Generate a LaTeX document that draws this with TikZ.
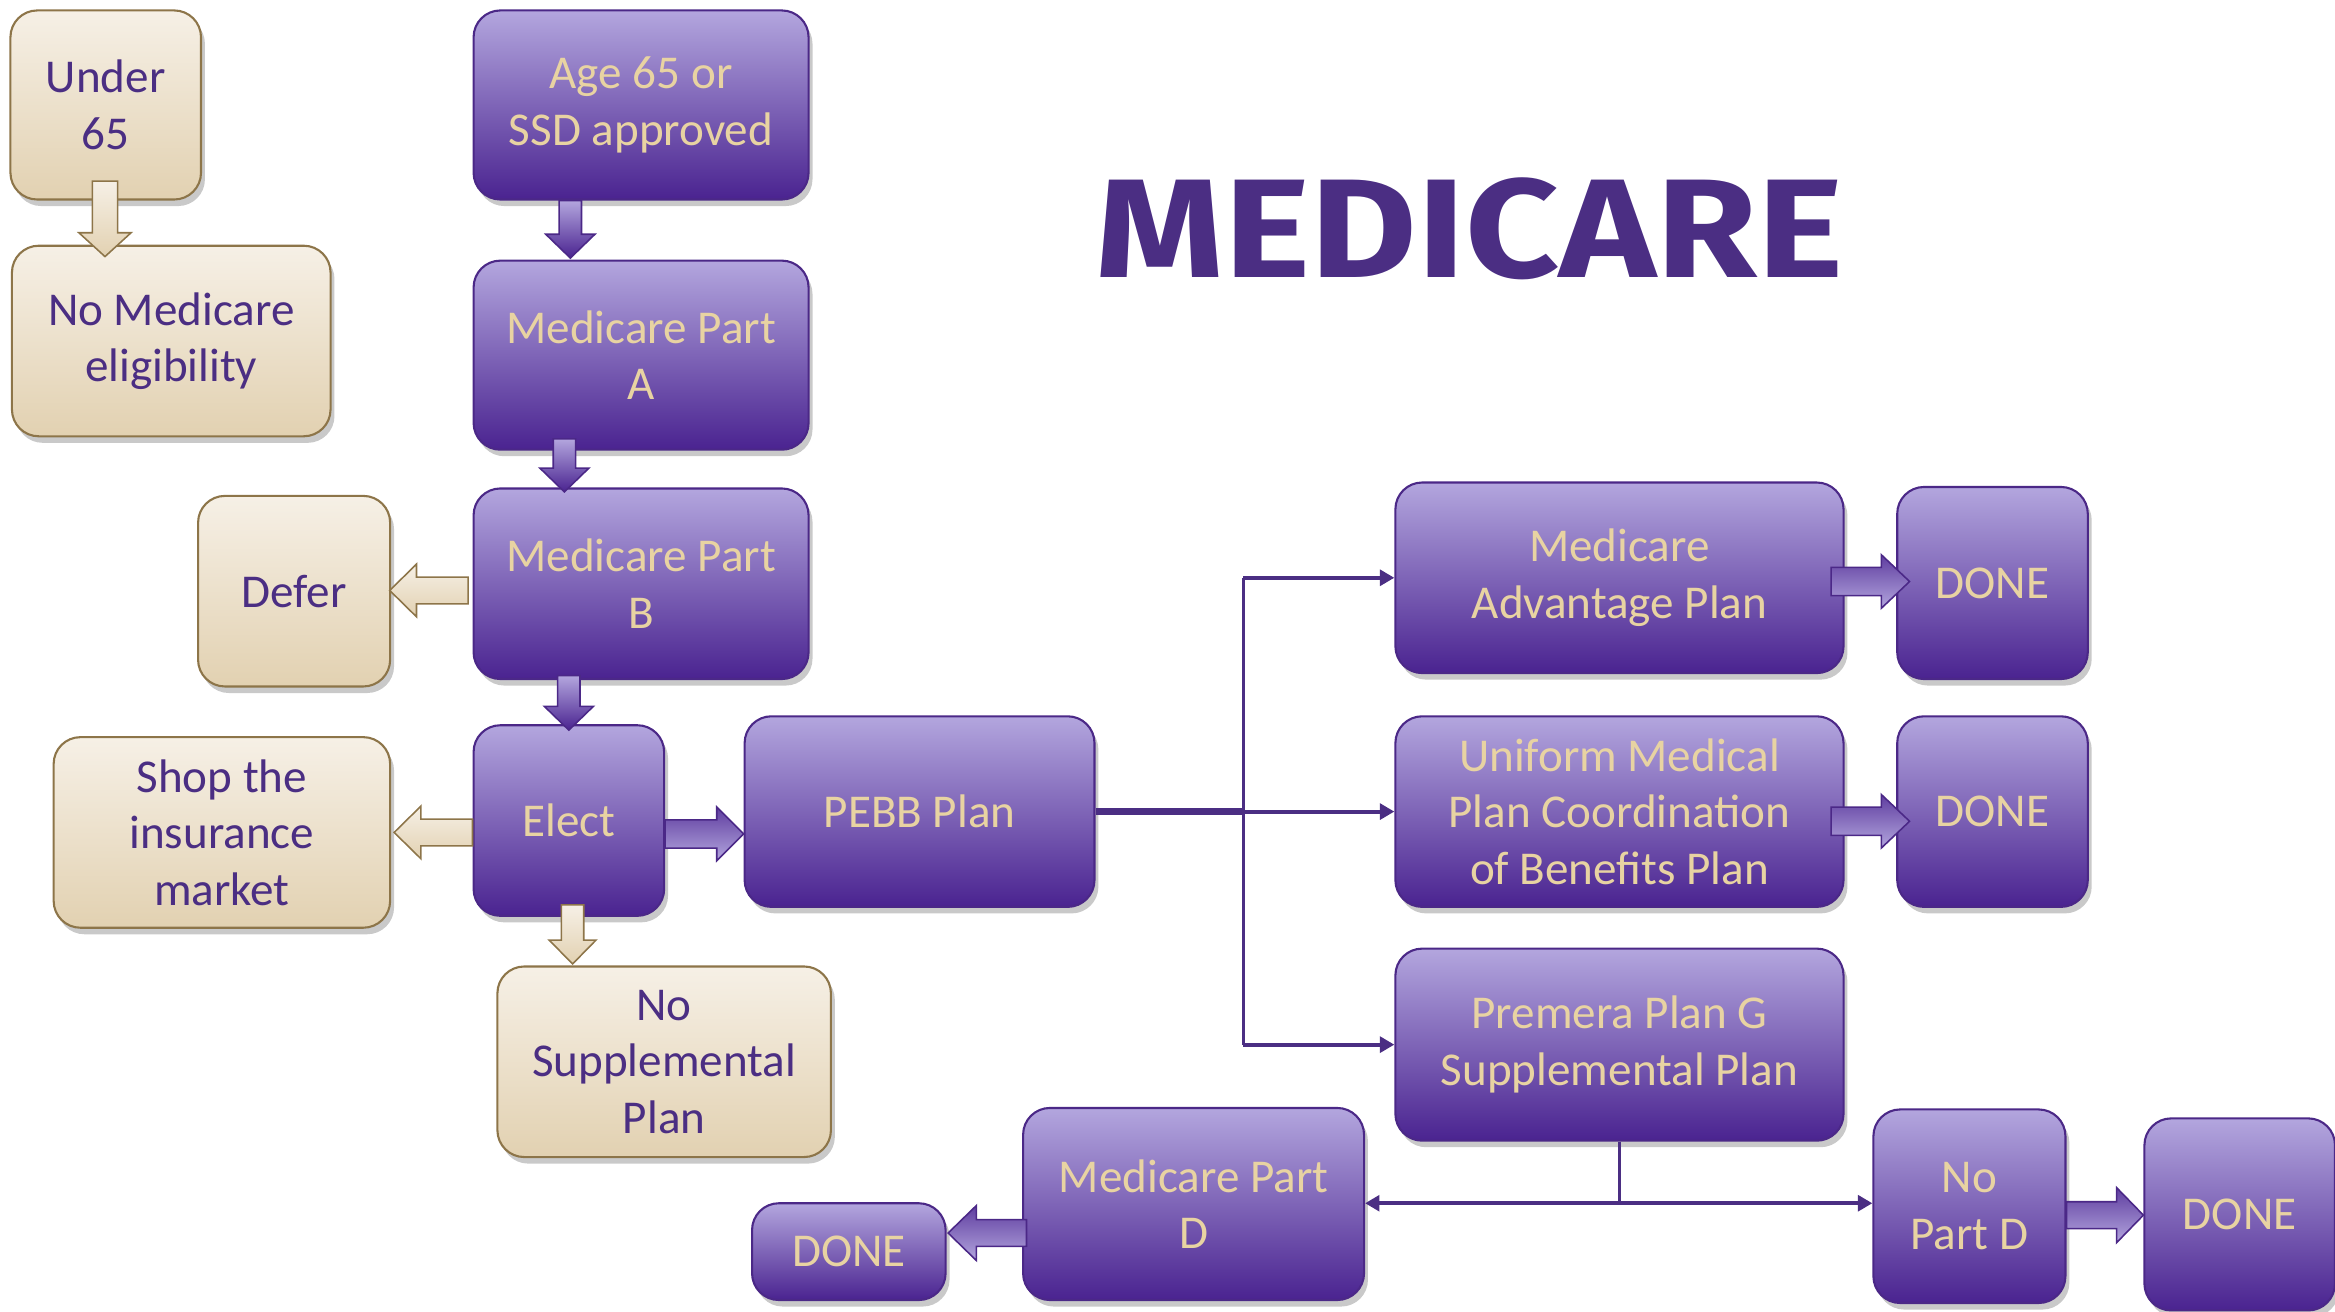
\documentclass[tikz,border=0pt]{standalone}
\usepackage{fontspec}
\usepackage{graphicx}
\setmainfont{Carlito}
\newfontfamily\titlefont{Fira Sans}
\usetikzlibrary{calc,shadows,arrows.meta}
\definecolor{ptop}{RGB}{179,166,222}
\definecolor{pmid}{RGB}{138,121,193}
\definecolor{pbot}{RGB}{74,35,144}
\definecolor{pborder}{RGB}{75,40,135}
\definecolor{uwpurple}{RGB}{75,46,131}
\definecolor{gold}{RGB}{232,211,162}
\definecolor{ttop}{RGB}{246,240,230}
\definecolor{tmid}{RGB}{237,226,206}
\definecolor{tbot}{RGB}{226,209,177}
\definecolor{tborder}{RGB}{141,117,73}
\newcommand\boxfont{\fontsize{18}{21.6}\selectfont}
\newcommand\barrow[6]{%
  \coordinate (hb) at ($(#3)!#6!(#2)$);
  \path[#1] ($(#2)!#4!90:(#3)$) -- ($(hb)!#4!-90:(#2)$) -- ($(hb)!#5!-90:(#2)$) -- (#3) -- ($(hb)!#5!90:(#2)$) -- ($(hb)!#4!90:(#2)$) -- ($(#2)!#4!-90:(#3)$) -- cycle;}
\tikzset{
  basebox/.style={rounded corners=0.36cm, line width=0.8pt, align=center, inner sep=0pt, font=\boxfont,
    drop shadow={shadow xshift=1.5pt, shadow yshift=-2.5pt, opacity=0.3, fill=black!70}},
  pbox/.style={basebox, draw=pborder, top color=ptop, middle color=pmid, bottom color=pbot, text=gold},
  tbox/.style={basebox, draw=tborder, top color=ttop, middle color=tmid, bottom color=tbot, text=uwpurple},
  pvarr/.style={draw=pborder, line width=0.6pt, top color=ptop, bottom color=pbot},
  pharr/.style={draw=pborder, line width=0.6pt, top color=pbot!80!ptop, bottom color=ptop},
  tarr/.style={draw=tborder, line width=0.6pt, top color=ttop, bottom color=tbot},
  conn/.style={draw=uwpurple, line width=1.5pt},
  connarr/.style={conn, -{Triangle[length=5.5pt,width=6pt]}},
}
\begin{document}
\begin{tikzpicture}[x=0.02cm, y=-0.02cm]
\useasboundingbox (0,0) rectangle (1568,881);
\clip (0,0) rectangle (1568,881);
% boxes
\node[tbox, minimum width=2.56cm, minimum height=2.54cm] (under) at (71,70.5) {Under\\65};
\node[tbox, minimum width=4.28cm, minimum height=2.56cm] (nomed) at (115,229) {No Medicare\\eligibility};
\node[pbox, minimum width=4.5cm, minimum height=2.54cm] (age) at (430.5,70.5) {Age 65 or\\SSD approved};
\node[pbox, minimum width=4.5cm, minimum height=2.54cm] (parta) at (430.5,238.5) {Medicare Part\\A};
\node[pbox, minimum width=4.5cm, minimum height=2.56cm] (partb) at (430.5,392) {Medicare Part\\B};
\node[tbox, minimum width=2.58cm, minimum height=2.56cm] (defer) at (197.5,397) {Defer};
\node[pbox, minimum width=2.56cm, minimum height=2.56cm] (elect) at (382,551) {Elect};
\node[tbox, minimum width=4.52cm, minimum height=2.56cm] (shop) at (149,559) {Shop the\\insurance\\market};
\node[pbox, minimum width=4.7cm, minimum height=2.56cm] (pebb) at (617.5,545) {PEBB Plan};
\node[tbox, minimum width=4.48cm, minimum height=2.56cm] (nosupp) at (446,713) {No\\Supplemental\\Plan};
\node[pbox, minimum width=6.02cm, minimum height=2.56cm] (medadv) at (1087.5,388) {Medicare\\Advantage Plan};
\node[pbox, minimum width=2.56cm, minimum height=2.58cm] (done1) at (1338,391.5) {DONE};
\node[pbox, minimum width=6.02cm, minimum height=2.56cm] (uniform) at (1087.5,545) {Uniform Medical\\Plan Coordination\\of Benefits Plan};
\node[pbox, minimum width=2.56cm, minimum height=2.56cm] (done2) at (1338,545) {DONE};
\node[pbox, minimum width=6.02cm, minimum height=2.58cm] (premera) at (1087.5,701.5) {Premera Plan G\\Supplemental Plan};
\node[pbox, minimum width=4.58cm, minimum height=2.58cm] (partd) at (801.5,808.5) {Medicare Part\\D};
\node[pbox, minimum width=2.6cm, minimum height=1.3cm] (done3) at (570,840.5) {DONE};
\node[pbox, minimum width=2.58cm, minimum height=2.6cm] (nopartd) at (1322.5,810) {No\\Part D};
\node[pbox, minimum width=2.56cm, minimum height=2.58cm] (done4) at (1504,815.5) {DONE};
% title
\node[inner sep=0pt, text=uwpurple] (title) at (987,153.5) {\resizebox{10.04cm}{1.34cm}{\titlefont\bfseries MEDICARE}};
% block arrows
\coordinate (a1s) at ($(under.south)+(-0.5,-13)$);
\coordinate (a1e) at ($(nomed.north)+(-44.5,8)$);
\barrow{tarr}{a1s}{a1e}{0.17cm}{0.35cm}{0.32cm}
\coordinate (a2s) at ($(age.south)+(-47.5,0)$);
\coordinate (a2e) at ($(parta.north)+(-47.5,-1)$);
\barrow{pvarr}{a2s}{a2e}{0.15cm}{0.33cm}{0.32cm}
\coordinate (a3s) at ($(parta.south)+(-51.5,-8)$);
\coordinate (a3e) at ($(partb.north)+(-51.5,3)$);
\barrow{pvarr}{a3s}{a3e}{0.15cm}{0.33cm}{0.32cm}
\coordinate (a4s) at ($(partb.south)+(-48.5,-3)$);
\coordinate (a4e) at ($(elect.north)+(0,4)$);
\barrow{pvarr}{a4s}{a4e}{0.15cm}{0.33cm}{0.32cm}
\coordinate (a5s) at ($(partb.west)+(-3,4.5)$);
\coordinate (a5e) at ($(defer.east)+(-1,-0.5)$);
\barrow{tarr}{a5s}{a5e}{0.18cm}{0.354cm}{0.36cm}
\coordinate (a6s) at ($(elect.west)+(0,8)$);
\coordinate (a6e) at ($(shop.east)+(2,0)$);
\barrow{tarr}{a6s}{a6e}{0.18cm}{0.354cm}{0.36cm}
\coordinate (a7s) at ($(elect.east)+(0,9)$);
\coordinate (a7e) at ($(pebb.west)+(0,15)$);
\barrow{pharr}{a7s}{a7e}{0.19cm}{0.36cm}{0.36cm}
\coordinate (a8s) at ($(elect.south)+(2.5,-8)$);
\coordinate (a8e) at ($(nosupp.north)+(-61.5,-1)$);
\barrow{tarr}{a8s}{a8e}{0.15cm}{0.314cm}{0.32cm}
\coordinate (a9s) at ($(medadv.east)+(-9,2.5)$);
\coordinate (a9e) at ($(done1.west)+(9,-1)$);
\barrow{pharr}{a9s}{a9e}{0.19cm}{0.36cm}{0.38cm}
\coordinate (a10s) at ($(uniform.east)+(-9,6.5)$);
\coordinate (a10e) at ($(done2.west)+(9,6.5)$);
\barrow{pharr}{a10s}{a10e}{0.19cm}{0.36cm}{0.38cm}
\coordinate (a11s) at ($(partd.west)+(3,19.5)$);
\coordinate (a11e) at ($(done3.east)+(1,-12.5)$);
\barrow{pharr}{a11s}{a11e}{0.18cm}{0.37cm}{0.38cm}
\coordinate (a12s) at ($(nopartd.east)+(0,6)$);
\coordinate (a12e) at ($(done4.west)+(0,0.5)$);
\barrow{pharr}{a12s}{a12e}{0.18cm}{0.37cm}{0.36cm}
% thin connectors
\coordinate (jx) at (835,545);
\draw[conn, line width=2.5pt] (pebb.east) -- (jx);
\draw[conn] (jx |- medadv.west) -- (jx |- premera.west);
\draw[connarr] (jx |- medadv.west) -- (medadv.west);
\draw[connarr] (jx) -- (uniform.west);
\draw[connarr] (jx |- premera.west) -- (premera.west);
\coordinate (jb) at (1087.5,808);
\draw[conn] (premera.south) -- (jb);
\draw[conn, {Triangle[length=5.5pt,width=6pt]}-{Triangle[length=5.5pt,width=6pt]}] (jb -| partd.east) -- (jb -| nopartd.west);
\end{tikzpicture}
\end{document}
